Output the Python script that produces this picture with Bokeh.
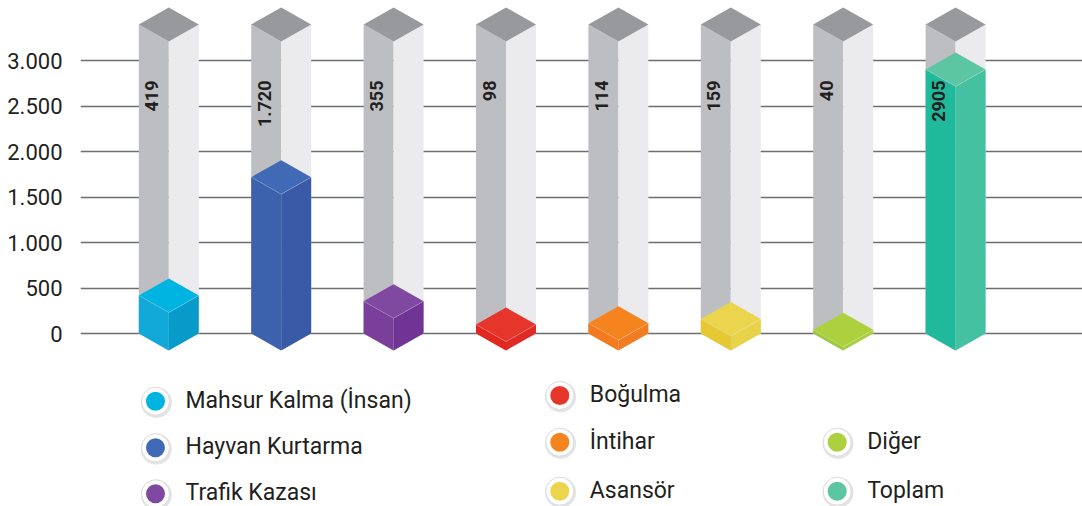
from bokeh.plotting import figure
from bokeh.models import FixedTicker
from bokeh.core.properties import value
from bokeh.embed import file_html
from bokeh.resources import INLINE

# ---------------- data ----------------
categories = ["Mahsur Kalma (İnsan)", "Hayvan Kurtarma", "Trafik Kazası", "Boğulma",
              "İntihar", "Asansör", "Diğer", "Toplam"]
values = [419, 1720, 355, 98, 114, 159, 40, 2905]
value_labels = ["419", "1.720", "355", "98", "114", "159", "40", "2905"]
ticks = [0, 500, 1000, 1500, 2000, 2500, 3000]
tick_labels = ["0", "500", "1.000", "1.500", "2.000", "2.500", "3.000"]
tube_max = 3400

# ---------------- styles ----------------
top_colors = ["#00b4e2", "#416ab6", "#8049a1", "#e6352a", "#f5841f", "#ebd54c", "#acd03e", "#5cc5a2"]
left_colors = ["#12a9d8", "#3c62ad", "#7a3e9b", "#e3271f", "#f47a20", "#e6c932", "#9bcb3a", "#1fb99b"]
right_colors = ["#069bc9", "#3a5aa8", "#6f3494", "#df2a25", "#f27c22", "#e8d24a", "#a8cf40", "#44c1a0"]
tube_left, tube_right, tube_top = "#bdbec2", "#ebebed", "#98999d"
text_color = "#231f20"

# pixel <-> data mapping (frame spans image x 80..1082, y 0..506)
PX_X = 112.4      # pixels per category step
PX_Y = 1 / 11.0   # pixels per value unit
HALF_W = 30 / PX_X
DIAM = 17 / PX_Y


def dx(img_x):
    return (img_x - 168.3) / PX_X


def dy(img_y):
    return (333 - img_y) / PX_Y


W, H = 1082, 506
p = figure(width=W, height=H, output_backend="svg", toolbar_location=None,
           x_range=(dx(80), dx(W)), y_range=(dy(H), dy(0)),
           min_border_left=80, min_border_right=0, min_border_top=0, min_border_bottom=0)
p.outline_line_color = None
p.background_fill_color = "white"
p.xaxis.visible = False
p.xgrid.visible = False

ax = p.yaxis[0]
ax.ticker = FixedTicker(ticks=ticks)
ax.major_label_overrides = {t: l for t, l in zip(ticks, tick_labels)}
ax.axis_line_color = None
ax.major_tick_line_color = None
ax.major_tick_out = 0
ax.major_tick_in = 0
ax.minor_tick_line_color = None
ax.major_label_standoff = 18
ax.major_label_text_font = "Roboto"
ax.major_label_text_font_size = "22px"
ax.major_label_text_color = text_color

p.ygrid.ticker = FixedTicker(ticks=ticks)
p.ygrid.grid_line_color = "#6d6e71"
p.ygrid.grid_line_width = 1.6


def prism(cx, v):
    top = [[cx - HALF_W, cx, cx + HALF_W, cx], [v, v + DIAM, v, v - DIAM]]
    left = [[cx - HALF_W, cx, cx, cx - HALF_W], [v, v - DIAM, -DIAM, 0]]
    right = [[cx, cx + HALF_W, cx + HALF_W, cx], [v - DIAM, v, 0, -DIAM]]
    return left, right, top


# gray tubes
for i, _ in enumerate(categories):
    l, r, t = prism(i, tube_max)
    p.patch(l[0], l[1], fill_color=tube_left, line_color=None)
    p.patch(r[0], r[1], fill_color=tube_right, line_color=None)
    p.patch(t[0], t[1], fill_color=tube_top, line_color=None)

# coloured bars
for i, v in enumerate(values):
    l, r, t = prism(i, v)
    p.patch(l[0], l[1], fill_color=left_colors[i], line_color=None)
    p.patch(r[0], r[1], fill_color=right_colors[i], line_color=None)
    p.patch(t[0], t[1], fill_color=top_colors[i], line_color=None)
    p.line([i - HALF_W, i, i + HALF_W], [v, v - DIAM, v], line_color="white", line_alpha=0.25, line_width=0.8)

# value labels (rotated)
p.text(x=[i - 0.15 for i in range(len(values))], y=[dy(80)] * len(values), text=value_labels,
       angle=1.5708, text_align="right", text_baseline="middle",
       text_font=value("Roboto"), text_font_style="bold", text_font_size="18px",
       text_color=text_color)

# ---------------- legend ----------------
legend_px = [(155, 400.7), (155, 447.3), (155, 493.3),
             (559.3, 395), (559.3, 441.7), (559.3, 490.7),
             (836.7, 441.7), (836.7, 490.7)]
lx = [dx(a) for a, b in legend_px]
ly = [dy(b) for a, b in legend_px]
p.scatter([dx(a + 0.8) for a, b in legend_px], [dy(b + 1.2) for a, b in legend_px], size=31,
          fill_color="#e4e4e4", line_color=None)
p.scatter(lx, ly, size=28, fill_color="white", line_color="#dcdcdc", line_width=1)
p.scatter(lx, ly, size=19, fill_color=top_colors, line_color=None)
p.text(x=[dx(a + 30) for a, b in legend_px], y=[v + 11 for v in ly], text=categories,
       text_baseline="middle", text_align="left", text_font=value("Roboto"),
       text_font_size="23px", text_color=text_color)

open("out.html", "w").write(file_html(p, INLINE))
